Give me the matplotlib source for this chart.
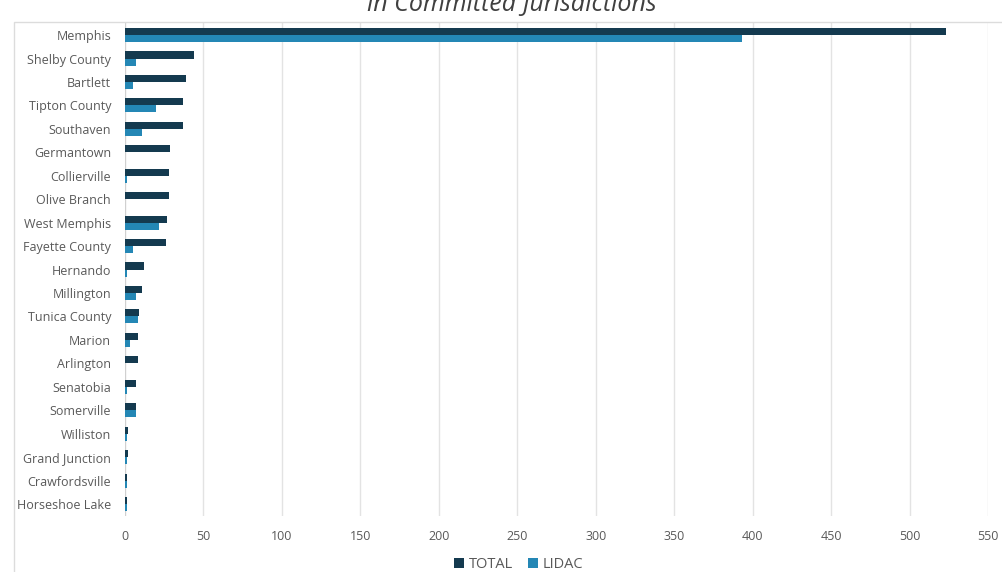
import numpy as np
from matplotlib import pyplot as plt
from matplotlib.patches import Rectangle

plt.rcParams['font.family'] = ['Open Sans', 'DejaVu Sans']

places = ['Memphis', 'Shelby County', 'Bartlett', 'Tipton County', 'Southaven',
          'Germantown', 'Collierville', 'Olive Branch', 'West Memphis',
          'Fayette County', 'Hernando', 'Millington', 'Tunica County', 'Marion',
          'Arlington', 'Senatobia', 'Somerville', 'Williston', 'Grand Junction',
          'Crawfordsville', 'Horseshoe Lake']
total = [523, 44, 39, 37, 37, 29, 28, 28, 27, 26, 12, 11, 9, 8, 8, 7, 7, 2, 2, 1, 1]
lidac = [393, 7, 5, 20, 11, 0, 1, 0, 22, 5, 1, 7, 8, 3, 0, 1, 7, 1, 1, 1, 1]

dark = '#143a4f'
light = '#2487b5'

fig = plt.figure(figsize=(10.03, 5.72), dpi=100)
ax = fig.add_axes([0.1246, 0.0984, 0.8604, 0.8608])

# light frame around the chart area
fig.patches.append(Rectangle((0.014, -0.01), 1.0, 0.972, transform=fig.transFigure,
                             fill=False, edgecolor='#dcdcdc', linewidth=1.0))
fig.text(0.51, 0.993, 'in Committed Jurisdictions', ha='center', va='center',
         fontsize=18, style='italic', color='#404040')

y = np.arange(len(places))
h = 0.3
ax.barh(y - h / 2, total, height=h, color=dark, label='TOTAL', zorder=3)
ax.barh(y + h / 2, lidac, height=h, color=light, label='LIDAC', zorder=3)

ax.set_xlim(0, 550)
ax.set_ylim(len(places) - 0.5, -0.5)
ax.set_xticks(np.arange(0, 551, 50))
ax.set_yticks(y)
ax.set_yticklabels(places)

ax.grid(True, axis='x', color='#e3e3e3', linewidth=1.0, zorder=0)
for s in ax.spines.values():
    s.set_visible(False)
ax.axvline(0, color='#d0d0d0', linewidth=0.8, zorder=2)
ax.tick_params(axis='both', length=0, labelsize=9, labelcolor='#595959')
ax.tick_params(axis='x', pad=10)
ax.tick_params(axis='y', pad=10)

fig.legend(loc='center', bbox_to_anchor=(0.517, 0.013), ncol=2, frameon=False,
           fontsize=10.5, handlelength=0.7, handleheight=0.7, handletextpad=0.3,
           columnspacing=1.0, labelcolor='#595959', borderpad=0.1)

plt.savefig('out.png')
